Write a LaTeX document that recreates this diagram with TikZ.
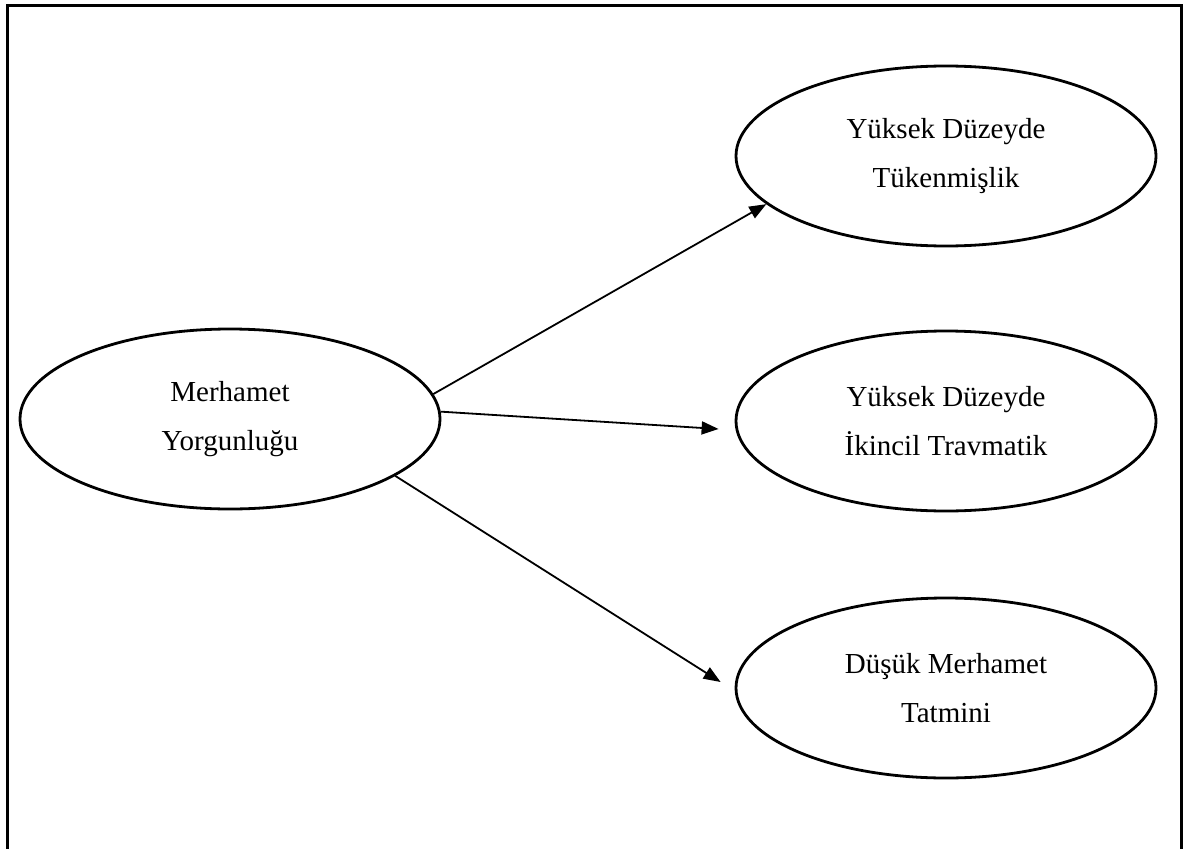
\documentclass[tikz,border=0pt]{standalone}
\usepackage{fontspec}
\setmainfont{Liberation Serif}
\usetikzlibrary{arrows.meta,shapes.geometric}

\tikzset{
  bubble/.style={ellipse, draw, line width=2.8pt, minimum width=420pt,
                 minimum height=180pt, inner sep=0pt, align=center,
                 font=\fontsize{29}{49}\selectfont},
  link/.style={line width=1.8pt, -{Triangle[length=17pt,width=13pt]}}
}

\begin{document}
\begin{tikzpicture}[x=1pt, y=-1pt]

        \useasboundingbox (0,0) rectangle (1185,848);

        %Frame
        \draw [line width=3pt] (7,870) -- (7,5.5) -- (1181.5,5.5) -- (1181.5,870);

        %Source
        \node [bubble] (yorgun)  at (230,419) {Merhamet\\Yorgunluğu};

        %Outcomes
        \node [bubble] (tuken)   at (946,156) {Yüksek Düzeyde\\Tükenmişlik};
        \node [bubble] (travma)  at (946,421) {Yüksek Düzeyde\\İkincil Travmatik};
        \node [bubble] (tatmin)  at (946,688) {Düşük Merhamet\\Tatmini};

        %Links
        \draw [link] (yorgun.7)   -- (tuken.195);
        \draw [link] (yorgun.2)   -- ([xshift=-16pt,yshift=-8pt]travma.west);
        \draw [link] (yorgun.-19) -- ([xshift=-14pt,yshift=6pt]tatmin.west);

\end{tikzpicture}
\end{document}
